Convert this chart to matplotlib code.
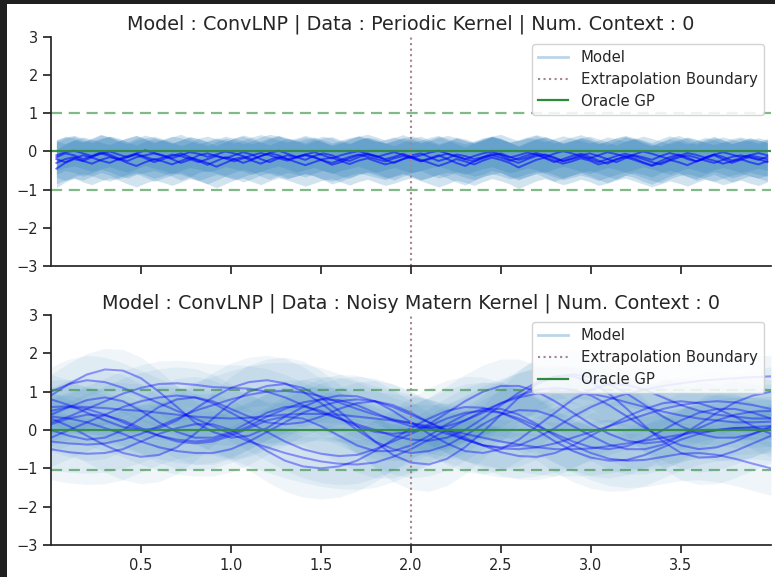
import numpy as np
import matplotlib
matplotlib.use("Agg")
import matplotlib.pyplot as plt
from matplotlib.lines import Line2D
from matplotlib.patches import Rectangle

# ---- data ----
top_title = "Model : ConvLNP | Data : Periodic Kernel | Num. Context : 0"
bottom_title = "Model : ConvLNP | Data : Noisy Matern Kernel | Num. Context : 0"

x_ticks = [0.5, 1.0, 1.5, 2.0, 2.5, 3.0, 3.5]
y_ticks = [-3, -2, -1, 0, 1, 2, 3]
boundary = 2.0

top_x_range = (0.03, 3.98)
bottom_x_range = (0.0, 4.0)

# Oracle GP mean and +/- band
top_oracle_mean = 0.0
top_oracle_band = 1.0
bottom_oracle_mean = 0.0
bottom_oracle_band = 1.05

# periodic kernel samples (step 0.05)
top_samples = [
    [-0.15, -0.05, -0.1, -0.2, -0.12, -0.02, -0.08, -0.18, -0.25, -0.15, -0.1, -0.05, -0.12, -0.2, -0.3, -0.22, -0.1, -0.05, -0.12, -0.18,
     -0.1, -0.02, -0.08, -0.2, -0.28, -0.18, -0.1, -0.15, -0.22, -0.12, -0.05, -0.1, -0.2, -0.25, -0.15, -0.08, -0.12, -0.22, -0.3, -0.2,
     -0.1, -0.05, -0.15, -0.25, -0.18, -0.08, -0.12, -0.2, -0.15, -0.05, -0.1, -0.22, -0.3, -0.2, -0.12, -0.08, -0.15, -0.25, -0.18, -0.1,
     -0.05, -0.12, -0.2, -0.28, -0.18, -0.1, -0.15, -0.22, -0.12, -0.04, -0.1, -0.2, -0.26, -0.16, -0.08, -0.14, -0.24, -0.18, -0.1, -0.15, -0.2],
    [-0.45, -0.3, -0.2, -0.25, -0.15, -0.05, -0.12, -0.22, -0.15, -0.08, -0.18, -0.28, -0.2, -0.12, -0.05, -0.15, -0.25, -0.35, -0.25, -0.15,
     -0.2, -0.3, -0.22, -0.12, -0.05, -0.1, -0.2, -0.15, -0.08, -0.14, -0.24, -0.35, -0.28, -0.18, -0.1, -0.05, -0.12, -0.2, -0.14, -0.06,
     -0.15, -0.25, -0.18, -0.1, -0.2, -0.3, -0.38, -0.26, -0.15, -0.1, -0.05, -0.14, -0.22, -0.16, -0.08, -0.18, -0.28, -0.2, -0.12, -0.06,
     -0.14, -0.24, -0.32, -0.22, -0.12, -0.18, -0.28, -0.36, -0.25, -0.15, -0.08, -0.16, -0.26, -0.18, -0.1, -0.2, -0.3, -0.22, -0.14, -0.2, -0.28],
    [-0.1, -0.02, 0.02, -0.05, -0.12, -0.06, 0.0, -0.08, -0.15, -0.05, 0.03, -0.04, -0.1, -0.18, -0.1, -0.02, -0.06, -0.14, -0.08, 0.0,
     -0.05, -0.12, -0.2, -0.12, -0.04, 0.02, -0.06, -0.14, -0.08, -0.02, -0.1, -0.18, -0.1, -0.04, 0.01, -0.07, -0.15, -0.08, -0.02, -0.09,
     -0.16, -0.1, -0.03, 0.02, -0.06, -0.14, -0.2, -0.12, -0.05, 0.0, -0.08, -0.16, -0.1, -0.03, -0.08, -0.15, -0.06, 0.01, -0.05, -0.12,
     -0.18, -0.1, -0.02, -0.07, -0.14, -0.08, 0.0, -0.06, -0.13, -0.2, -0.12, -0.04, -0.09, -0.16, -0.08, -0.02, -0.08, -0.15, -0.1, -0.04, -0.1],
    [-0.3, -0.2, -0.15, -0.25, -0.32, -0.22, -0.15, -0.2, -0.3, -0.38, -0.28, -0.2, -0.26, -0.34, -0.25, -0.16, -0.22, -0.3, -0.4, -0.3,
     -0.2, -0.15, -0.24, -0.32, -0.22, -0.14, -0.2, -0.28, -0.36, -0.28, -0.2, -0.16, -0.25, -0.33, -0.24, -0.18, -0.26, -0.34, -0.28, -0.2,
     -0.14, -0.22, -0.3, -0.38, -0.3, -0.2, -0.26, -0.34, -0.24, -0.16, -0.22, -0.3, -0.42, -0.32, -0.22, -0.16, -0.24, -0.32, -0.26, -0.18,
     -0.24, -0.34, -0.28, -0.2, -0.15, -0.22, -0.3, -0.38, -0.3, -0.22, -0.28, -0.36, -0.26, -0.18, -0.24, -0.32, -0.26, -0.2, -0.28, -0.34, -0.25],
    [-0.2, -0.28, -0.18, -0.1, -0.16, -0.24, -0.3, -0.2, -0.12, -0.06, -0.14, -0.22, -0.16, -0.08, -0.12, -0.2, -0.28, -0.2, -0.12, -0.18,
     -0.26, -0.18, -0.1, -0.04, -0.1, -0.18, -0.24, -0.16, -0.1, -0.16, -0.24, -0.3, -0.22, -0.14, -0.08, -0.14, -0.2, -0.26, -0.18, -0.12,
     -0.18, -0.26, -0.2, -0.12, -0.06, -0.12, -0.2, -0.26, -0.18, -0.1, -0.16, -0.24, -0.18, -0.1, -0.04, -0.1, -0.18, -0.26, -0.2, -0.14,
     -0.2, -0.28, -0.2, -0.12, -0.06, -0.12, -0.2, -0.28, -0.34, -0.24, -0.16, -0.1, -0.16, -0.24, -0.3, -0.22, -0.14, -0.1, -0.16, -0.22, -0.14],
]
top_stds = [0.45, 0.5, 0.4, 0.55, 0.48]

# noisy matern samples (step 0.1)
bottom_samples = [
    [0.9, 1.2, 1.45, 1.58, 1.55, 1.35, 1.0, 0.6, 0.2, -0.05, -0.2, -0.15, 0.05, 0.35, 0.6, 0.8, 0.9, 0.88, 0.75, 0.5, 0.2,
     -0.1, -0.35, -0.55, -0.6, -0.5, -0.25, 0.1, 0.45, 0.8, 1.05, 1.2, 1.18, 1.05, 0.85, 0.65, 0.5, 0.4, 0.35, 0.3, 0.3],
    [0.3, 0.1, -0.15, -0.4, -0.6, -0.7, -0.65, -0.45, -0.1, 0.3, 0.7, 1.0, 1.15, 1.2, 1.1, 0.85, 0.5, 0.1, -0.3, -0.65, -0.85,
     -0.9, -0.75, -0.45, -0.05, 0.4, 0.85, 1.2, 1.38, 1.4, 1.25, 0.95, 0.55, 0.1, -0.3, -0.6, -0.72, -0.7, -0.55, -0.35, -0.15],
    [1.0, 1.2, 1.3, 1.25, 1.1, 0.9, 0.7, 0.5, 0.3, 0.1, -0.1, -0.3, -0.45, -0.6, -0.72, -0.82, -0.88, -0.9, -0.85, -0.7, -0.5,
     -0.25, 0.0, 0.25, 0.5, 0.7, 0.85, 0.95, 1.0, 1.0, 0.95, 0.85, 0.72, 0.6, 0.48, 0.38, 0.3, 0.25, 0.2, 0.2, 0.22],
    [-0.3, -0.35, -0.38, -0.35, -0.25, -0.1, 0.1, 0.3, 0.5, 0.65, 0.8, 0.92, 1.0, 1.02, 0.98, 0.88, 0.72, 0.55, 0.4, 0.28, 0.18,
     0.05, -0.1, -0.25, -0.4, -0.48, -0.5, -0.45, -0.35, -0.2, -0.05, 0.1, 0.25, 0.4, 0.55, 0.65, 0.72, 0.75, 0.72, 0.65, 0.55],
    [0.5, 0.6, 0.55, 0.4, 0.2, 0.0, -0.15, -0.25, -0.3, -0.25, -0.1, 0.1, 0.35, 0.55, 0.72, 0.8, 0.78, 0.65, 0.45, 0.25, 0.1,
     0.05, 0.1, 0.25, 0.45, 0.7, 0.9, 1.05, 1.1, 1.05, 0.9, 0.65, 0.35, 0.05, -0.2, -0.4, -0.5, -0.45, -0.3, -0.1, 0.1],
    [-0.5, -0.58, -0.62, -0.6, -0.5, -0.3, -0.1, 0.05, 0.15, 0.15, 0.0, -0.25, -0.55, -0.8, -0.95, -1.0, -0.95, -0.8, -0.55, -0.25, 0.05,
     0.3, 0.5, 0.6, 0.58, 0.45, 0.25, 0.0, -0.3, -0.55, -0.72, -0.8, -0.78, -0.65, -0.45, -0.25, -0.1, 0.0, 0.05, 0.05, 0.0],
    [0.2, 0.35, 0.55, 0.75, 0.95, 1.1, 1.2, 1.22, 1.18, 1.12, 1.1, 1.08, 1.0, 0.85, 0.65, 0.45, 0.3, 0.15, 0.0, -0.15, -0.25,
     -0.28, -0.2, 0.0, 0.3, 0.65, 0.98, 1.25, 1.4, 1.45, 1.38, 1.2, 0.95, 0.65, 0.35, 0.1, -0.1, -0.2, -0.2, -0.1, 0.05],
    [0.6, 0.62, 0.6, 0.57, 0.53, 0.5, 0.45, 0.4, 0.35, 0.32, 0.3, 0.32, 0.36, 0.4, 0.42, 0.42, 0.4, 0.35, 0.3, 0.25, 0.18,
     0.1, 0.0, -0.1, -0.2, -0.3, -0.38, -0.45, -0.5, -0.5, -0.48, -0.42, -0.35, -0.28, -0.2, -0.12, -0.05, 0.0, 0.05, 0.08, 0.1],
    [0.8, 0.65, 0.45, 0.25, 0.08, 0.0, 0.05, 0.25, 0.55, 0.85, 1.1, 1.25, 1.3, 1.22, 1.0, 0.7, 0.35, 0.0, -0.3, -0.5, -0.6,
     -0.55, -0.4, -0.15, 0.15, 0.4, 0.52, 0.5, 0.35, 0.1, -0.15, -0.38, -0.5, -0.5, -0.38, -0.15, 0.15, 0.45, 0.72, 0.9, 1.0],
    [0.4, 0.6, 0.78, 0.85, 0.75, 0.5, 0.2, -0.05, -0.2, -0.2, -0.05, 0.2, 0.45, 0.6, 0.62, 0.5, 0.3, 0.1, -0.05, -0.1, -0.05,
     0.15, 0.45, 0.75, 1.0, 1.15, 1.15, 1.0, 0.75, 0.45, 0.15, -0.1, -0.28, -0.35, -0.3, -0.15, 0.05, 0.25, 0.4, 0.48, 0.5],
    [-0.2, 0.0, 0.2, 0.4, 0.6, 0.75, 0.85, 0.9, 0.85, 0.7, 0.45, 0.2, -0.05, -0.3, -0.5, -0.62, -0.68, -0.65, -0.5, -0.3, -0.1,
     0.1, 0.3, 0.45, 0.5, 0.45, 0.3, 0.1, -0.1, -0.3, -0.45, -0.5, -0.42, -0.25, 0.0, 0.25, 0.45, 0.55, 0.55, 0.45, 0.3],
    [0.35, 0.3, 0.2, 0.05, -0.1, -0.3, -0.45, -0.55, -0.6, -0.6, -0.5, -0.3, -0.05, 0.2, 0.45, 0.62, 0.75, 0.8, 0.75, 0.6, 0.4,
     0.2, 0.0, -0.2, -0.4, -0.58, -0.68, -0.7, -0.6, -0.4, -0.15, 0.1, 0.35, 0.55, 0.7, 0.75, 0.7, 0.55, 0.35, 0.1, -0.1],
    [0.0, -0.15, -0.25, -0.2, 0.0, 0.3, 0.6, 0.8, 0.85, 0.75, 0.55, 0.35, 0.2, 0.15, 0.2, 0.35, 0.55, 0.7, 0.75, 0.65, 0.45,
     0.2, -0.05, -0.25, -0.4, -0.45, -0.4, -0.2, 0.05, 0.35, 0.6, 0.8, 0.95, 1.05, 1.15, 1.22, 1.28, 1.32, 1.35, 1.38, 1.4],
    [0.15, 0.3, 0.4, 0.38, 0.25, 0.05, -0.15, -0.3, -0.35, -0.3, -0.15, 0.05, 0.25, 0.35, 0.3, 0.1, -0.15, -0.4, -0.55, -0.55, -0.4,
     -0.15, 0.15, 0.4, 0.55, 0.55, 0.4, 0.15, -0.15, -0.4, -0.6, -0.75, -0.8, -0.78, -0.7, -0.62, -0.6, -0.65, -0.75, -0.88, -1.0],
]
bottom_stds = [0.55, 0.7, 0.65, 0.75, 0.6, 0.8, 0.6, 0.7, 0.65, 0.7, 0.75, 0.6, 0.55, 0.7]

# ---- style ----
text_color = "#262626"
plt.rcParams.update({
    "font.family": "DejaVu Sans",
    "font.size": 10.5,
    "text.color": text_color,
    "axes.edgecolor": text_color,
    "axes.linewidth": 1.25,
    "xtick.color": text_color,
    "ytick.color": text_color,
    "xtick.labelsize": 10.5,
    "ytick.labelsize": 10.5,
    "xtick.major.size": 6,
    "ytick.major.size": 6,
    "xtick.major.width": 1.25,
    "ytick.major.width": 1.25,
})

band_color = "tab:blue"
sample_color = "blue"
oracle_color = "#2e8b3a"
boundary_color = "#a3848f"

fig = plt.figure(figsize=(7.75, 5.77), dpi=100, facecolor="#1f1f1f")
# white canvas inside the dark screenshot edge
fig.patches.append(Rectangle((7 / 775, 0), 1 - 7 / 775, 1 - 4 / 577,
                             transform=fig.transFigure, facecolor="white",
                             edgecolor="none", zorder=-1))

ax_top = fig.add_axes([0.0658, 0.539, 0.929, 0.397])
ax_bot = fig.add_axes([0.0658, 0.0555, 0.929, 0.3985])


def draw_panel(ax, samples, stds, x_range, band_alpha, line_alpha, lw,
               oracle_mean, oracle_band, title):
    for ys, sd in zip(samples, stds):
        ys = np.array(ys)
        xs = np.linspace(x_range[0], x_range[1], len(ys))
        ax.fill_between(xs, ys - sd, ys + sd, color=band_color,
                        alpha=band_alpha, linewidth=0)
        ax.plot(xs, ys, color=sample_color, alpha=line_alpha, lw=lw)

    ax.axhline(oracle_mean, color=oracle_color, lw=1.6, alpha=0.9)
    ax.axhline(oracle_mean + oracle_band, color=oracle_color, lw=1.6,
               ls=(0, (5, 3)), alpha=0.6)
    ax.axhline(oracle_mean - oracle_band, color=oracle_color, lw=1.6,
               ls=(0, (5, 3)), alpha=0.6)
    ax.axvline(boundary, color=boundary_color, lw=1.5, ls=":")

    ax.set_xlim(0, 4)
    ax.set_ylim(-3, 3)
    ax.set_xticks(x_ticks)
    ax.set_yticks(y_ticks)
    ax.set_title(title, fontsize=13.8, pad=5)
    for side in ["top", "right"]:
        ax.spines[side].set_visible(False)

    handles = [
        Line2D([], [], color=band_color, alpha=0.3, lw=2),
        Line2D([], [], color=boundary_color, lw=1.5, ls=":"),
        Line2D([], [], color=oracle_color, lw=1.6),
    ]
    ax.legend(handles, ["Model", "Extrapolation Boundary", "Oracle GP"],
              loc="upper right", fontsize=10.7, framealpha=0.85,
              handlelength=2.0, handletextpad=0.85, borderaxespad=0.5,
              labelspacing=0.45)


draw_panel(ax_top, top_samples, top_stds, top_x_range, 0.2, 0.55, 1.4,
           top_oracle_mean, top_oracle_band, top_title)
draw_panel(ax_bot, bottom_samples, bottom_stds, bottom_x_range, 0.07, 0.38, 1.5,
           bottom_oracle_mean, bottom_oracle_band, bottom_title)
ax_top.tick_params(labelbottom=False)

fig.savefig("out.png", dpi=100, facecolor=fig.get_facecolor())
